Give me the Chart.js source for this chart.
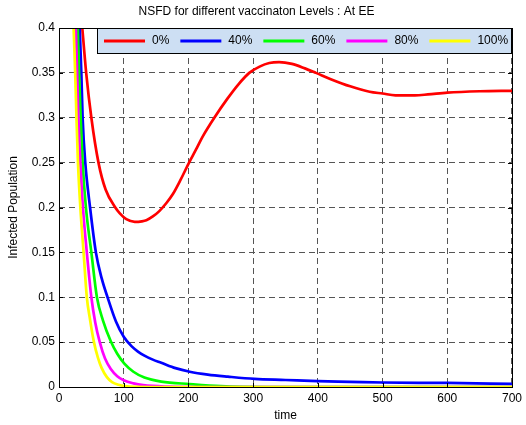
<!DOCTYPE html>
<html>
<head>
<meta charset="utf-8">
<script src="https://cdn.jsdelivr.net/npm/chart.js@4.4.1/dist/chart.umd.min.js"></script>
<style>
	html, body { margin: 0; padding: 0; background: #fff; }
	canvas { display: block; }
</style>
</head>
<body>
<canvas id="mycanvas" width="526" height="425"></canvas>
<script>
// values
var labels = ['0%', '40%', '60%', '80%', '100%'];
var colors = ['#ff0000', '#0000ff', '#00ff00', '#ff00ff', '#ffff00'];

var time0 = [0, 36, 42, 50, 61, 72, 87, 94, 104, 117, 128, 135, 145, 155, 166, 176, 188, 201, 212, 222, 240, 260, 277, 294, 310, 325, 340, 360, 380, 397, 420, 450, 480, 500, 520, 550, 570, 600, 650, 700];
var inf0  = [0.72, 0.4, 0.35, 0.3, 0.25, 0.22, 0.2, 0.1935, 0.187, 0.184, 0.1846, 0.1858, 0.19, 0.196, 0.205, 0.215, 0.231, 0.25, 0.265, 0.279, 0.3, 0.321, 0.337, 0.35, 0.357, 0.361, 0.362, 0.36, 0.355, 0.35, 0.343, 0.335, 0.329, 0.327, 0.325, 0.325, 0.326, 0.328, 0.3295, 0.33];

var time40 = [0, 32, 34.5, 36.5, 40.6, 48, 57, 66, 75, 88, 100, 112, 122, 132, 145, 158, 180, 202, 230, 261, 302, 350, 400, 450, 500, 600, 700];
var inf40  = [1.0, 0.4, 0.35, 0.3, 0.25, 0.2, 0.15, 0.121, 0.1, 0.073, 0.056, 0.0455, 0.0395, 0.035, 0.0305, 0.027, 0.021, 0.017, 0.0138, 0.0115, 0.009, 0.0078, 0.0065, 0.0058, 0.005, 0.0045, 0.0035];

var time60 = [0, 29, 31, 33.5, 36.5, 41.6, 50, 58.6, 68, 80, 90, 101, 115, 132, 158, 202, 250, 320, 700];
var inf60  = [0.95, 0.4, 0.35, 0.3, 0.25, 0.2, 0.15, 0.1, 0.074, 0.051, 0.037, 0.026, 0.017, 0.0105, 0.006, 0.0033, 0.001, 0, 0];

var time80 = [0, 26, 28, 30, 33, 37, 43, 50, 56, 63, 71, 80, 90, 100, 115, 130, 170, 220, 700];
var inf80  = [0.9, 0.4, 0.35, 0.3, 0.25, 0.2, 0.15, 0.1, 0.072, 0.05, 0.032, 0.02, 0.012, 0.0075, 0.004, 0.002, 0.0004, 0, 0];

var time100 = [0, 22.6, 25, 27, 29.3, 33, 38, 43, 48, 54, 60, 66, 74, 82, 92, 102, 140, 700];
var inf100  = [0.9, 0.4, 0.35, 0.3, 0.25, 0.2, 0.15, 0.1, 0.075, 0.05, 0.033, 0.021, 0.011, 0.0055, 0.0025, 0.001, 0, 0];

var xTicks = [0, 100, 200, 300, 400, 500, 600, 700];
var yTicks = [0, 0.05, 0.1, 0.15, 0.2, 0.25, 0.3, 0.35, 0.4];

var times = [time0, time40, time60, time80, time100];
var infs = [inf0, inf40, inf60, inf80, inf100];

var fontFam = "'Liberation Sans', Arial, sans-serif";

function toPoints(t, v) {
	var pts = [];
	for (var i in t) {
		pts.push({x: t[i], y: v[i]});
	}
	return pts;
}

var datasets = [];
for (var k = 0; k < labels.length; k++) {
	datasets.push({
		label: labels[k],
		data: toPoints(times[k], infs[k]),
		borderColor: colors[k],
		backgroundColor: colors[k],
		borderWidth: 2.7,
		pointRadius: 0,
		cubicInterpolationMode: 'monotone',
		fill: false,
		order: labels.length - k
	});
}

// frame, inward ticks and the matlab style legend box
var matlabBox = {
	id: 'matlabBox',
	afterDraw: function(chart) {
		var ctx = chart.ctx;
		var a = chart.chartArea;
		var sx = chart.scales.x, sy = chart.scales.y;
		ctx.save();
		ctx.strokeStyle = '#000';
		ctx.lineWidth = 1;
		ctx.beginPath();
		for (var i in xTicks) {
			var px = Math.round(sx.getPixelForValue(xTicks[i])) + 0.5;
			ctx.moveTo(px, a.bottom); ctx.lineTo(px, a.bottom - 4);
			ctx.moveTo(px, a.top); ctx.lineTo(px, a.top + 4);
		}
		for (var j in yTicks) {
			var py = Math.round(sy.getPixelForValue(yTicks[j])) + 0.5;
			ctx.moveTo(a.left, py); ctx.lineTo(a.left + 4, py);
			ctx.moveTo(a.right, py); ctx.lineTo(a.right - 4, py);
		}
		ctx.stroke();
		ctx.strokeRect(Math.round(a.left) + 0.5, Math.round(a.top) + 0.5,
			Math.round(a.right - a.left), Math.round(a.bottom - a.top));

		// legend
		var lx = 97, ly = Math.round(a.top), lw = Math.round(a.right) - 1 - lx, lh = 25;
		ctx.fillStyle = '#cddff3';
		ctx.fillRect(lx, ly, lw, lh);
		ctx.strokeStyle = '#000';
		ctx.strokeRect(lx + 0.5, ly + 0.5, lw, lh);
		ctx.font = '12px ' + fontFam;
		ctx.textBaseline = 'middle';
		var x = 104, yMid = ly + 13;
		chart.data.datasets.forEach(function(ds) {
			ctx.strokeStyle = ds.borderColor;
			ctx.lineWidth = 3;
			ctx.beginPath();
			ctx.moveTo(x, yMid); ctx.lineTo(x + 41, yMid);
			ctx.stroke();
			ctx.fillStyle = '#000';
			ctx.fillText(ds.label, x + 48, yMid);
			x += 48 + ctx.measureText(ds.label).width + 11;
		});
		ctx.restore();
	}
};

var ctx = document.getElementById('mycanvas');

var LineGraph = new Chart(ctx, {
	type: 'line',
	data: { datasets: datasets },
	options: {
		responsive: false,
		animation: false,
		layout: { padding: { left: 0, right: 13, top: 0, bottom: 0 } },
		plugins: {
			legend: { display: false },
			tooltip: { enabled: false },
			title: {
				display: true,
				text: 'NSFD for different vaccinaton Levels : At EE',
				color: '#000',
				font: { family: fontFam, size: 12, weight: 'normal' },
				padding: { top: 4, bottom: 9.6 }
			}
		},
		scales: {
			x: {
				type: 'linear',
				min: 0,
				max: 700,
				afterFit: function(s) { s.height = 38; },
				afterBuildTicks: function(s) { s.ticks = xTicks.map(function(v) { return {value: v}; }); },
				ticks: { color: '#000', padding: 4, maxRotation: 0, font: { family: fontFam, size: 12 } },
				grid: { color: '#555', lineWidth: 1, drawTicks: false },
				border: { display: false, dash: [6, 4] },
				title: { display: true, text: 'time', color: '#000', font: { family: fontFam, size: 12 }, padding: { top: 0, bottom: 2 } }
			},
			y: {
				type: 'linear',
				min: 0,
				max: 0.4,
				afterFit: function(s) { s.width = 59; },
				afterBuildTicks: function(s) { s.ticks = yTicks.map(function(v) { return {value: v}; }); },
				ticks: {
					color: '#000', padding: 4, font: { family: fontFam, size: 12 },
					callback: function(v) { return String(Math.round(v * 100) / 100); }
				},
				grid: { color: '#555', lineWidth: 1, drawTicks: false },
				border: { display: false, dash: [6, 4] },
				title: { display: true, text: 'Infected Population', color: '#000', font: { family: fontFam, size: 12 }, padding: { top: 6, bottom: 0 } }
			}
		}
	},
	plugins: [matlabBox]
});
</script>
</body>
</html>
